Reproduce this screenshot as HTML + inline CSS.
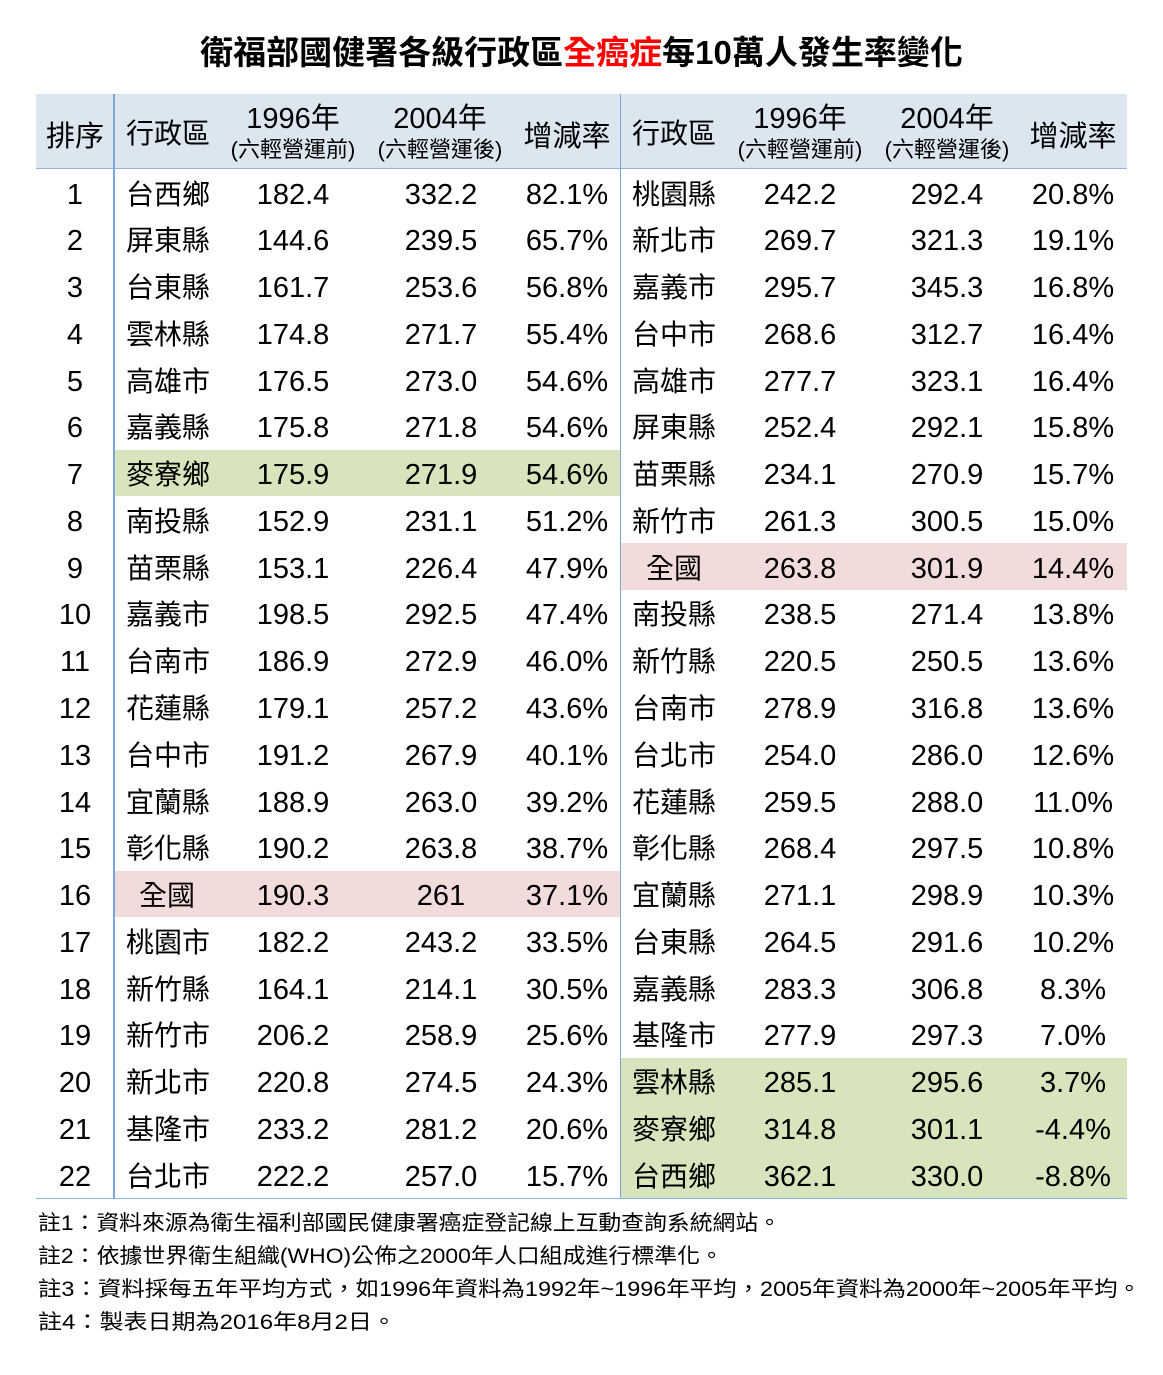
<!DOCTYPE html>
<html><head><meta charset="utf-8">
<style>
html,body{margin:0;padding:0;background:#fff;}
body{width:1163px;height:1375px;position:relative;overflow:hidden;font-family:"Liberation Sans","Noto Sans CJK TC",sans-serif;color:#000;}
.title{position:absolute;left:0;width:1163px;top:32px;height:42px;line-height:42px;text-align:center;font-size:33px;font-weight:bold;letter-spacing:0;}
.title .red{color:#ff0000;}
.hdr{position:absolute;left:36px;top:94px;width:1091px;height:74px;background:#dce6f1;}
.hline{position:absolute;left:36px;width:1091px;height:1.5px;background:#8db4e2;}
.vline{position:absolute;top:94px;height:1104px;width:1.5px;background:#7aa6dd;}
.ht{position:absolute;white-space:nowrap;font-size:28px;height:40px;line-height:40px;}
.ht.c{text-align:center;}
.hm{position:absolute;white-space:nowrap;text-align:center;font-size:29px;height:34px;line-height:34px;}
.hs{position:absolute;white-space:nowrap;text-align:center;font-size:22px;height:28px;line-height:28px;}
.r{position:absolute;left:36px;width:1091px;height:46.77px;}
.hl{position:absolute;top:0;height:46.77px;width:506px;}
.hl.L{left:78.5px;}
.hl.R{left:585px;}
.g{background:#d8e4bc;}
.p{background:#f2dcdb;}
.c{position:absolute;top:2.5px;height:46.77px;line-height:46.77px;white-space:nowrap;font-size:29px;}
.rk{left:0;width:78px;text-align:center;}
.n1{left:90px;font-size:28px;}
.a1{left:197px;width:120px;text-align:center;}
.b1{left:345px;width:120px;text-align:center;}
.p1{left:481px;width:100px;text-align:center;}
.n2{left:596px;font-size:28px;}
.a2{left:704px;width:120px;text-align:center;}
.b2{left:851px;width:120px;text-align:center;}
.p2{left:987px;width:100px;text-align:center;}
.q1{left:103px;}
.q2{left:610px;}
svg.notes{position:absolute;left:0;top:0;}
</style></head><body>

<div class="title">衛福部國健署各級行政區<span class="red">全癌症</span>每10萬人發生率變化</div>

<div class="hdr"></div>
<div class="hline" style="top:167.5px"></div>
<div class="hline" style="top:1197.5px"></div>

<div class="ht c" style="left:36px;width:78px;top:114px;">排序</div>
<div class="ht" style="left:126px;top:114px;">行政區</div>
<div class="hm" style="left:213px;width:160px;top:102px;">1996年</div>
<div class="hs" style="left:213px;width:160px;top:136px;">(六輕營運前)</div>
<div class="hm" style="left:360px;width:160px;top:102px;">2004年</div>
<div class="hs" style="left:360px;width:160px;top:136px;">(六輕營運後)</div>
<div class="ht c" style="left:507px;width:120px;top:114px;">增減率</div>

<div class="ht" style="left:632px;top:114px;">行政區</div>
<div class="hm" style="left:720px;width:160px;top:102px;">1996年</div>
<div class="hs" style="left:720px;width:160px;top:136px;">(六輕營運前)</div>
<div class="hm" style="left:867px;width:160px;top:102px;">2004年</div>
<div class="hs" style="left:867px;width:160px;top:136px;">(六輕營運後)</div>
<div class="ht c" style="left:1013px;width:120px;top:114px;">增減率</div>

<div class="r" style="top:169px"><span class="c rk">1</span><span class="c n1">台西鄉</span><span class="c a1">182.4</span><span class="c b1">332.2</span><span class="c p1">82.1%</span><span class="c n2">桃園縣</span><span class="c a2">242.2</span><span class="c b2">292.4</span><span class="c p2">20.8%</span></div>
<div class="r" style="top:215.77px"><span class="c rk">2</span><span class="c n1">屏東縣</span><span class="c a1">144.6</span><span class="c b1">239.5</span><span class="c p1">65.7%</span><span class="c n2">新北市</span><span class="c a2">269.7</span><span class="c b2">321.3</span><span class="c p2">19.1%</span></div>
<div class="r" style="top:262.54px"><span class="c rk">3</span><span class="c n1">台東縣</span><span class="c a1">161.7</span><span class="c b1">253.6</span><span class="c p1">56.8%</span><span class="c n2">嘉義市</span><span class="c a2">295.7</span><span class="c b2">345.3</span><span class="c p2">16.8%</span></div>
<div class="r" style="top:309.31px"><span class="c rk">4</span><span class="c n1">雲林縣</span><span class="c a1">174.8</span><span class="c b1">271.7</span><span class="c p1">55.4%</span><span class="c n2">台中市</span><span class="c a2">268.6</span><span class="c b2">312.7</span><span class="c p2">16.4%</span></div>
<div class="r" style="top:356.08px"><span class="c rk">5</span><span class="c n1">高雄市</span><span class="c a1">176.5</span><span class="c b1">273.0</span><span class="c p1">54.6%</span><span class="c n2">高雄市</span><span class="c a2">277.7</span><span class="c b2">323.1</span><span class="c p2">16.4%</span></div>
<div class="r" style="top:402.85px"><span class="c rk">6</span><span class="c n1">嘉義縣</span><span class="c a1">175.8</span><span class="c b1">271.8</span><span class="c p1">54.6%</span><span class="c n2">屏東縣</span><span class="c a2">252.4</span><span class="c b2">292.1</span><span class="c p2">15.8%</span></div>
<div class="r" style="top:449.62px"><div class="hl L g"></div><span class="c rk">7</span><span class="c n1">麥寮鄉</span><span class="c a1">175.9</span><span class="c b1">271.9</span><span class="c p1">54.6%</span><span class="c n2">苗栗縣</span><span class="c a2">234.1</span><span class="c b2">270.9</span><span class="c p2">15.7%</span></div>
<div class="r" style="top:496.39px"><span class="c rk">8</span><span class="c n1">南投縣</span><span class="c a1">152.9</span><span class="c b1">231.1</span><span class="c p1">51.2%</span><span class="c n2">新竹市</span><span class="c a2">261.3</span><span class="c b2">300.5</span><span class="c p2">15.0%</span></div>
<div class="r" style="top:543.16px"><div class="hl R p"></div><span class="c rk">9</span><span class="c n1">苗栗縣</span><span class="c a1">153.1</span><span class="c b1">226.4</span><span class="c p1">47.9%</span><span class="c n2 q2">全國</span><span class="c a2">263.8</span><span class="c b2">301.9</span><span class="c p2">14.4%</span></div>
<div class="r" style="top:589.93px"><span class="c rk">10</span><span class="c n1">嘉義市</span><span class="c a1">198.5</span><span class="c b1">292.5</span><span class="c p1">47.4%</span><span class="c n2">南投縣</span><span class="c a2">238.5</span><span class="c b2">271.4</span><span class="c p2">13.8%</span></div>
<div class="r" style="top:636.7px"><span class="c rk">11</span><span class="c n1">台南市</span><span class="c a1">186.9</span><span class="c b1">272.9</span><span class="c p1">46.0%</span><span class="c n2">新竹縣</span><span class="c a2">220.5</span><span class="c b2">250.5</span><span class="c p2">13.6%</span></div>
<div class="r" style="top:683.47px"><span class="c rk">12</span><span class="c n1">花蓮縣</span><span class="c a1">179.1</span><span class="c b1">257.2</span><span class="c p1">43.6%</span><span class="c n2">台南市</span><span class="c a2">278.9</span><span class="c b2">316.8</span><span class="c p2">13.6%</span></div>
<div class="r" style="top:730.24px"><span class="c rk">13</span><span class="c n1">台中市</span><span class="c a1">191.2</span><span class="c b1">267.9</span><span class="c p1">40.1%</span><span class="c n2">台北市</span><span class="c a2">254.0</span><span class="c b2">286.0</span><span class="c p2">12.6%</span></div>
<div class="r" style="top:777.01px"><span class="c rk">14</span><span class="c n1">宜蘭縣</span><span class="c a1">188.9</span><span class="c b1">263.0</span><span class="c p1">39.2%</span><span class="c n2">花蓮縣</span><span class="c a2">259.5</span><span class="c b2">288.0</span><span class="c p2">11.0%</span></div>
<div class="r" style="top:823.78px"><span class="c rk">15</span><span class="c n1">彰化縣</span><span class="c a1">190.2</span><span class="c b1">263.8</span><span class="c p1">38.7%</span><span class="c n2">彰化縣</span><span class="c a2">268.4</span><span class="c b2">297.5</span><span class="c p2">10.8%</span></div>
<div class="r" style="top:870.55px"><div class="hl L p"></div><span class="c rk">16</span><span class="c n1 q1">全國</span><span class="c a1">190.3</span><span class="c b1">261</span><span class="c p1">37.1%</span><span class="c n2">宜蘭縣</span><span class="c a2">271.1</span><span class="c b2">298.9</span><span class="c p2">10.3%</span></div>
<div class="r" style="top:917.32px"><span class="c rk">17</span><span class="c n1">桃園市</span><span class="c a1">182.2</span><span class="c b1">243.2</span><span class="c p1">33.5%</span><span class="c n2">台東縣</span><span class="c a2">264.5</span><span class="c b2">291.6</span><span class="c p2">10.2%</span></div>
<div class="r" style="top:964.09px"><span class="c rk">18</span><span class="c n1">新竹縣</span><span class="c a1">164.1</span><span class="c b1">214.1</span><span class="c p1">30.5%</span><span class="c n2">嘉義縣</span><span class="c a2">283.3</span><span class="c b2">306.8</span><span class="c p2">8.3%</span></div>
<div class="r" style="top:1010.86px"><span class="c rk">19</span><span class="c n1">新竹市</span><span class="c a1">206.2</span><span class="c b1">258.9</span><span class="c p1">25.6%</span><span class="c n2">基隆市</span><span class="c a2">277.9</span><span class="c b2">297.3</span><span class="c p2">7.0%</span></div>
<div class="r" style="top:1057.63px"><div class="hl R g"></div><span class="c rk">20</span><span class="c n1">新北市</span><span class="c a1">220.8</span><span class="c b1">274.5</span><span class="c p1">24.3%</span><span class="c n2">雲林縣</span><span class="c a2">285.1</span><span class="c b2">295.6</span><span class="c p2">3.7%</span></div>
<div class="r" style="top:1104.4px"><div class="hl R g"></div><span class="c rk">21</span><span class="c n1">基隆市</span><span class="c a1">233.2</span><span class="c b1">281.2</span><span class="c p1">20.6%</span><span class="c n2">麥寮鄉</span><span class="c a2">314.8</span><span class="c b2">301.1</span><span class="c p2">-4.4%</span></div>
<div class="r" style="top:1151.17px"><div class="hl R g"></div><span class="c rk">22</span><span class="c n1">台北市</span><span class="c a1">222.2</span><span class="c b1">257.0</span><span class="c p1">15.7%</span><span class="c n2">台西鄉</span><span class="c a2">362.1</span><span class="c b2">330.0</span><span class="c p2">-8.8%</span></div>

<div class="vline" style="left:113px"></div>
<div class="vline" style="left:619.5px"></div>

<svg class="notes" width="1163" height="1375" xmlns="http://www.w3.org/2000/svg" style="font-family:'Liberation Sans','Noto Sans CJK TC',sans-serif;font-size:21px;fill:#000">
<text x="38" y="1230" textLength="743" lengthAdjust="spacingAndGlyphs">註1：資料來源為衛生福利部國民健康署癌症登記線上互動查詢系統網站。</text>
<text x="38" y="1263" textLength="685" lengthAdjust="spacingAndGlyphs">註2：依據世界衛生組織(WHO)公佈之2000年人口組成進行標準化。</text>
<text x="38" y="1296" textLength="1103" lengthAdjust="spacingAndGlyphs">註3：資料採每五年平均方式，如1996年資料為1992年~1996年平均，2005年資料為2000年~2005年平均。</text>
<text x="38" y="1329" textLength="358" lengthAdjust="spacingAndGlyphs">註4：製表日期為2016年8月2日。</text>
</svg>

</body></html>
